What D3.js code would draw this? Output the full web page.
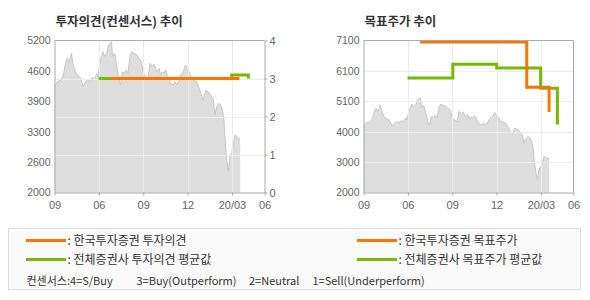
<!DOCTYPE html>
<meta charset="utf-8">
<title>투자의견 / 목표주가 추이</title>
<style>

body {
  margin: 0;
  background-color: #fff;
}

text {
  font-family: "Liberation Sans", Arial, sans-serif;
}

.kr {
  font-family: "Noto Sans CJK KR", sans-serif;
}

.axis path, .axis line {
  stroke: #aaa;
}

.axis text {
  fill: #666;
  font-size: 10.5px;
  font-family: "Liberation Sans", Arial, sans-serif;
}

</style>
<body>
<script src="https://cdn.jsdelivr.net/npm/d3@7"></script>
<script>

// x positions are months counted from the first tick
var monthTicks = [0, 3, 6, 9, 12, 14.2],
    monthLabels = ["09", "06", "09", "12", "20/03", "06"];

var price = [
  [0.00, 4227], [0.19, 4332], [0.42, 4368], [0.60, 4473], [0.76, 4753],
  [0.87, 4825], [0.98, 4719], [1.14, 4930], [1.27, 4684], [1.43, 4509],
  [1.59, 4473], [1.77, 4404], [1.93, 4227], [2.11, 4332], [2.22, 4383],
  [2.40, 4332], [2.56, 4425], [2.71, 4368], [2.85, 4509], [2.94, 4438],
  [3.05, 4684], [3.17, 4859], [3.28, 4964], [3.39, 4859], [3.53, 4930],
  [3.64, 5105], [3.75, 5141], [3.84, 5175], [3.93, 4859], [4.07, 4930],
  [4.20, 4684], [4.36, 4368], [4.47, 4263], [4.59, 4543], [4.70, 4509],
  [4.86, 4579], [4.97, 4509], [5.10, 4859], [5.21, 4964], [5.38, 4930],
  [5.56, 4895], [5.71, 4825], [5.87, 4753], [6.01, 4509], [6.16, 4438],
  [6.32, 4368], [6.46, 4719], [6.61, 4649], [6.73, 4705], [6.91, 4543],
  [7.07, 4614], [7.18, 4473], [7.29, 4543], [7.40, 4509], [7.52, 4579],
  [7.67, 4438], [7.85, 4298], [8.03, 4263], [8.14, 4332], [8.26, 4263],
  [8.42, 4368], [8.53, 4473], [8.71, 4543], [8.87, 4684], [8.98, 4579],
  [9.09, 4543], [9.25, 4404], [9.43, 4368], [9.61, 4332], [9.77, 4193],
  [9.93, 4052], [10.06, 3947], [10.22, 4158], [10.38, 4122], [10.56, 4052],
  [10.74, 3947], [10.85, 3631], [10.96, 3807], [11.12, 3877], [11.24, 3842],
  [11.35, 3737], [11.46, 3526], [11.53, 3108], [11.65, 2690], [11.76, 2446],
  [11.87, 2795], [11.98, 2829], [12.10, 3004], [12.21, 3213], [12.32, 3178],
  [12.48, 3143], [12.55, 3120]
];

var opinionKis = [[3.83, 3], [12.50, 3]],
    opinionAvg = [[2.98, 3], [11.98, 3.09], [13.11, 3]],
    opinionTicks = [0, 1, 2, 3, 4],
    priceLabels = ["2000", "2600", "3300", "3900", "4600", "5200"];

var targetKis = [[3.83, 7050], [11.04, 5530], [12.55, 4700]],
    targetAvg = [[2.98, 5840], [6.04, 6300], [9.01, 6175], [11.98, 5500], [13.11, 4280]],
    targetLabels = ["2000", "3000", "4000", "5100", "6100", "7100"];

var orange = "#ff7300",
    green = "#77b800";

var width = 590,
    height = 300,
    plotTop = 40.5,
    plotBottom = 192.5;

var svg = d3.select("body").append("svg")
    .attr("width", width)
    .attr("height", height);

function panel(x0, title, yScale, grid, yLabels, series) {
  var x = d3.scaleLinear().domain([0, 14.2]).range([x0, x0 + 210]),
      g = svg.append("g");

  g.append("text")
      .attr("class", "kr")
      .attr("x", x0 + 1)
      .attr("y", 25.5)
      .style("font-size", "12.5px")
      .style("font-weight", "bold")
      .style("fill", "#333")
      .text(title);

  g.append("path")
      .datum(price)
      .attr("d", d3.area()
          .x(function(d) { return x(d[0]); })
          .y0(plotBottom)
          .y1(function(d) { return yScale(d[1]); }))
      .style("fill", "#dedede");

  g.append("path")
      .datum(price)
      .attr("d", d3.line()
          .x(function(d) { return x(d[0]); })
          .y(function(d) { return yScale(d[1]); }))
      .style("fill", "none")
      .style("stroke", "#c6c6c6");

  // grid on top of the price area
  g.selectAll(".vgrid")
      .data(monthTicks.slice(1, -1))
    .enter().append("line")
      .attr("x1", function(d) { return Math.round(x(d)) + .5; })
      .attr("x2", function(d) { return Math.round(x(d)) + .5; })
      .attr("y1", plotTop)
      .attr("y2", plotBottom)
      .style("stroke", "#ececec");

  g.selectAll(".hgrid")
      .data(grid.values)
    .enter().append("line")
      .attr("x1", x0)
      .attr("x2", x0 + 210)
      .attr("y1", function(d) { return Math.round(grid.scale(d)) + .5; })
      .attr("y2", function(d) { return Math.round(grid.scale(d)) + .5; })
      .style("stroke", "#ececec");

  series.forEach(function(s) {
    g.append("path")
        .datum(s.data)
        .attr("d", d3.line()
            .curve(d3.curveStepAfter)
            .x(function(d) { return x(d[0]); })
            .y(function(d) { return s.y(d[1]); }))
        .style("fill", "none")
        .style("stroke", s.color)
        .style("stroke-width", 3);
  });

  g.append("line")
      .attr("x1", x0)
      .attr("x2", x0 + 210)
      .attr("y1", plotTop)
      .attr("y2", plotTop)
      .style("stroke", "#aaa");

  g.append("g")
      .attr("class", "axis")
      .attr("transform", "translate(0," + plotBottom + ")")
      .call(d3.axisBottom(x)
          .tickValues(monthTicks)
          .tickFormat(function(d, i) { return monthLabels[i]; })
          .tickSizeInner(3)
          .tickSizeOuter(0)
          .tickPadding(6))
      .selectAll("text")
      .style("font-size", "11px");

  var lo = yScale.domain()[0], hi = yScale.domain()[1];

  g.append("g")
      .attr("class", "axis")
      .attr("transform", "translate(" + x0 + ",0)")
      .call(d3.axisLeft(yScale)
          .tickValues(yLabels.map(function(d, i) { return lo + i * (hi - lo) / (yLabels.length - 1); }))
          .tickFormat(function(d, i) { return yLabels[i]; })
          .tickSize(0)
          .tickPadding(4));

  return g;
}

var yOpinion = d3.scaleLinear().domain([0, 4]).range([plotBottom, plotTop]),
    yPriceL = d3.scaleLinear().domain([2000, 5200]).range([plotBottom, plotTop]),
    yPriceR = d3.scaleLinear().domain([2000, 7100]).range([plotBottom, plotTop]);

var left = panel(54.5, "투자의견(컨센서스) 추이", yPriceL,
    {values: [1, 2, 3], scale: yOpinion}, priceLabels,
    [{data: opinionAvg, y: yOpinion, color: green},
     {data: opinionKis, y: yOpinion, color: orange}]);

left.append("g")
    .attr("class", "axis")
    .attr("transform", "translate(264.5,0)")
    .call(d3.axisRight(yOpinion)
        .tickValues(opinionTicks)
        .tickFormat(d3.format("d"))
        .tickSizeInner(3)
        .tickSizeOuter(0)
        .tickPadding(2))
    .selectAll("text")
    .style("font-size", "11px");

var right = panel(363.5, "목표주가 추이", yPriceR,
    {values: [3020, 4040, 5060, 6080], scale: yPriceR}, targetLabels,
    [{data: targetAvg, y: yPriceR, color: green},
     {data: targetKis, y: yPriceR, color: orange}]);

right.append("line")
    .attr("x1", 573.5)
    .attr("x2", 573.5)
    .attr("y1", plotTop)
    .attr("y2", plotBottom)
    .style("stroke", "#aaa");

// legend
var legendItems = [
  {x: 26, y: 240.5, color: orange, label: ": 한국투자증권 투자의견"},
  {x: 26, y: 259.5, color: green, label: ": 전체증권사 투자의견 평균값"},
  {x: 357, y: 240.5, color: orange, label: ": 한국투자증권 목표주가"},
  {x: 357, y: 259.5, color: green, label: ": 전체증권사 목표주가 평균값"}
];

var consensusNotes = [
  {x: 26.5, label: "컨센서스:4=S/Buy"},
  {x: 136.5, label: "3=Buy(Outperform)"},
  {x: 249, label: "2=Neutral"},
  {x: 312.5, label: "1=Sell(Underperform)"}
];

var legend = svg.append("g");

legend.append("rect")
    .attr("x", 8.5)
    .attr("y", 228.5)
    .attr("width", 572)
    .attr("height", 61)
    .style("fill", "#fafafa")
    .style("stroke", "#ddd");

var item = legend.selectAll(".item")
    .data(legendItems)
  .enter().append("g");

item.append("line")
    .attr("x1", function(d) { return d.x; })
    .attr("x2", function(d) { return d.x + 40; })
    .attr("y1", function(d) { return d.y; })
    .attr("y2", function(d) { return d.y; })
    .style("stroke", function(d) { return d.color; })
    .style("stroke-width", 3);

item.append("text")
    .attr("class", "kr")
    .attr("x", function(d) { return d.x + 41.5; })
    .attr("y", function(d) { return d.y + 4.5; })
    .style("font-size", "12px")
    .style("fill", "#333")
    .text(function(d) { return d.label; });

legend.selectAll(".note")
    .data(consensusNotes)
  .enter().append("text")
    .attr("class", "kr")
    .attr("x", function(d) { return d.x; })
    .attr("y", 285)
    .style("font-size", "11px")
    .style("fill", "#333")
    .text(function(d) { return d.label; });

</script>
